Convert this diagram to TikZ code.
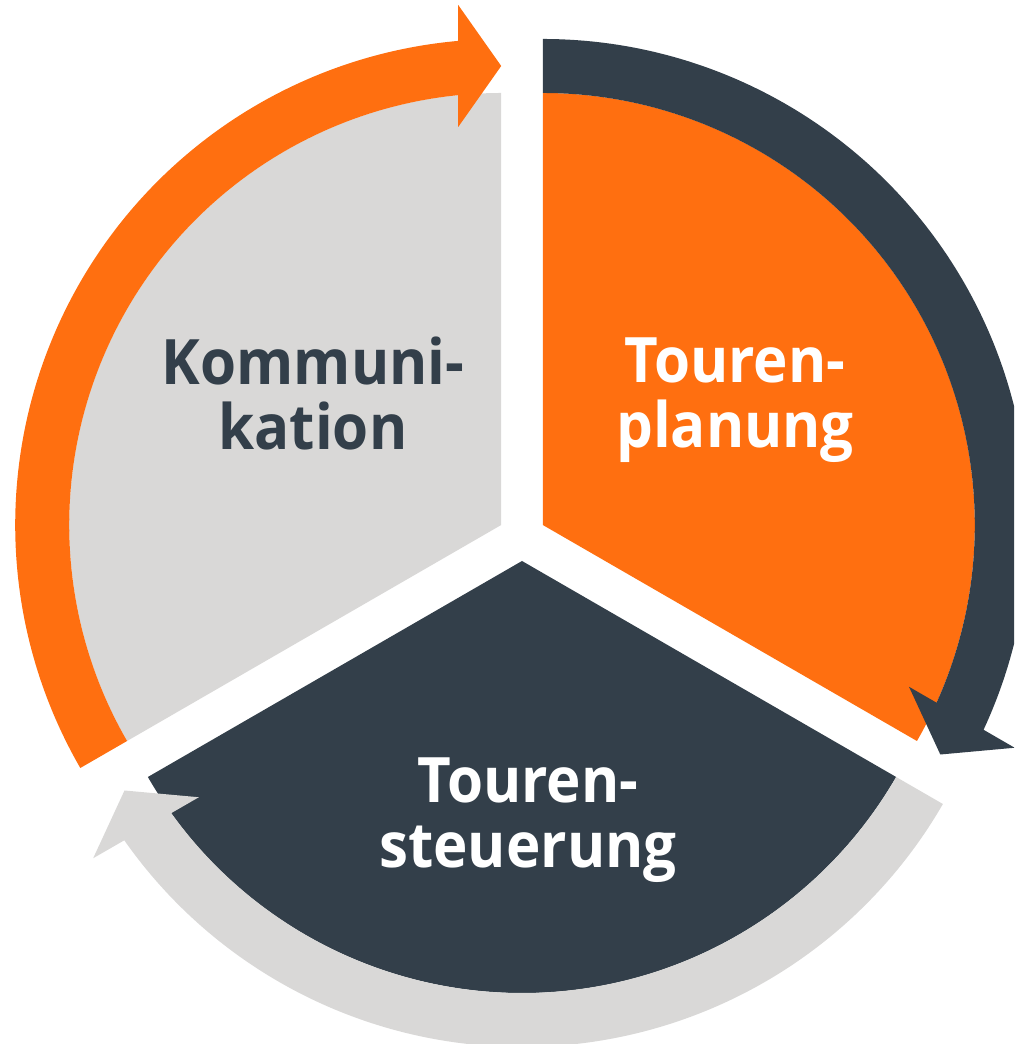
\documentclass[tikz,border=0pt]{standalone}
\usepackage{fontspec}
\setmainfont{Open Sans}[BoldFeatures={FakeStretch=0.93}]

\definecolor{tourorange}{RGB}{255,111,16}
\definecolor{tourslate}{RGB}{51,63,74}
\definecolor{tourgrey}{RGB}{217,216,215}

\tikzset{
  slicetext/.style={font=\bfseries\fontsize{47}{49}\selectfont, align=center, anchor=base, inner sep=0pt},
}

% ring arrow round one slice: #1 centre, #2 rotation, #3 colour
\newcommand{\cyclearrow}[3]{%
  \fill[#3, shift={#1}, rotate=#2]
    (210:486) arc[start angle=210, end angle=95.08, radius=486]
    -- (-43,520) -- (0,459) -- (-43,398)
    -- (95.71:432) arc[start angle=95.71, end angle=210, radius=432] -- cycle;}

\begin{document}
\begin{tikzpicture}[x=0.75pt,y=0.75pt]
  \path[use as bounding box, clip] (0,0) rectangle (1014,1044);

  % centres of the three slices (pushed apart)
  \coordinate (cplan) at (542.8,519);
  \coordinate (ckomm) at (501.2,519);
  \coordinate (csteu) at (522,483);

  % slices
  \fill[tourorange] (cplan) -- ++(90:432) arc[start angle=90, end angle=-30, radius=432] -- cycle;
  \fill[tourgrey] (ckomm) -- ++(90:432) arc[start angle=90, end angle=210, radius=432] -- cycle;
  \fill[tourslate] (csteu) -- ++(210:432) arc[start angle=210, end angle=330, radius=432] -- cycle;

  % arrows
  \cyclearrow{(ckomm)}{0}{tourorange}
  \cyclearrow{(cplan)}{-120}{tourslate}
  \cyclearrow{(csteu)}{120}{tourgrey}

  % Text Node
  \node[slicetext, text=tourslate] (komm) at (313,594) {Kommuni-\\kation};
  % Text Node
  \node[slicetext, text=white] (plan) at (735,596) {Touren-\\planung};
  % Text Node
  \node[slicetext, text=white] (steu) at (528,176) {Touren-\\steuerung};
\end{tikzpicture}
\end{document}
